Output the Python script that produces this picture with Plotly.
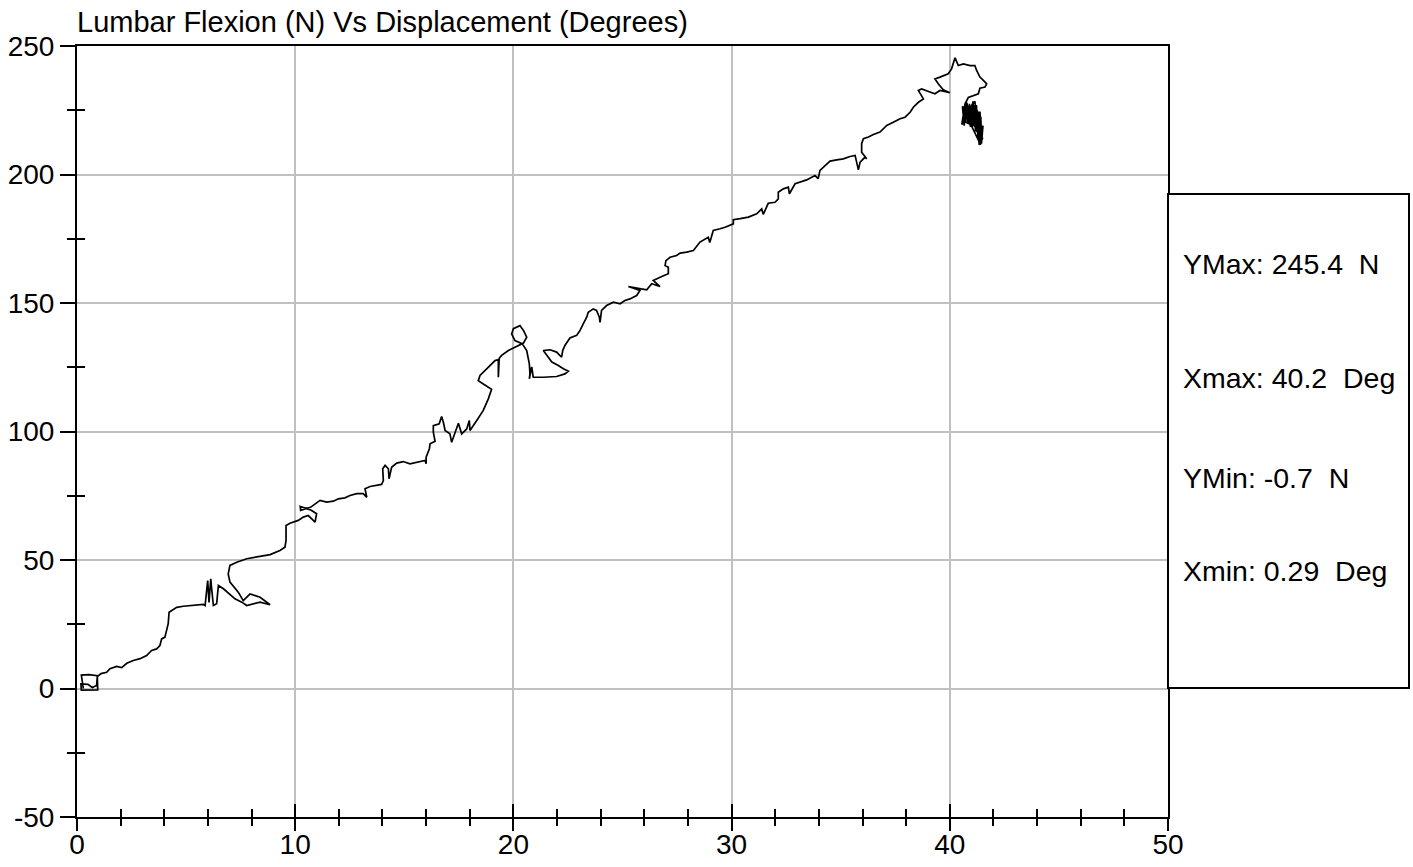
import plotly.graph_objects as go

# Lumbar flexion test: force (N) against angular displacement (degrees)
displacement_deg = [
    0.29, 0.20, 0.55, 0.93, 0.95, 0.20, 0.18, 0.50, 0.70, 0.90, 0.93, 1.10, 1.36, 1.51, 1.82,
    2.05, 2.28, 2.58, 2.89, 3.19, 3.42, 3.65, 3.80, 3.88, 4.03, 4.11, 4.18, 4.22, 4.34, 4.57,
    4.87, 5.18, 5.49, 5.79, 5.87, 5.99, 6.05, 6.13, 6.17, 6.25, 6.40, 6.48, 6.71, 7.24, 7.55,
    7.78, 8.39, 8.85, 8.39, 7.93, 7.62, 7.39, 7.01, 6.93, 7.01, 7.32, 7.78, 8.39, 8.85, 9.30,
    9.53, 9.58, 9.58, 9.76, 10.14, 10.37, 10.60, 10.91, 10.98, 10.70, 10.23, 10.25, 10.70, 11.14, 11.44,
    11.75, 11.98, 12.28, 12.51, 12.82, 13.12, 13.28, 13.20, 13.43, 13.73, 13.96, 14.04, 14.01, 14.12, 14.27,
    14.30, 14.42, 14.65, 14.95, 15.26, 15.57, 15.95, 16.00, 16.00, 16.15, 16.18, 16.41, 16.33, 16.33, 16.60,
    16.71, 16.79, 16.87, 17.09, 17.17, 17.32, 17.48, 17.63, 17.86, 17.98, 18.01, 18.32, 18.62, 18.85, 19.00,
    18.62, 18.39, 18.47, 18.78, 19.16, 19.31, 19.31, 19.35, 19.46, 19.77, 20.00, 20.23, 20.46, 20.61, 20.46,
    20.30, 20.00, 19.92, 20.07, 20.40, 20.61, 20.73, 20.76, 20.73, 20.84, 20.91, 21.37, 21.98, 22.36, 22.52,
    22.29, 22.06, 21.76, 21.60, 21.45, 21.37, 21.68, 21.98, 22.21, 22.26, 22.36, 22.59, 22.90, 23.05, 23.20,
    23.36, 23.43, 23.66, 23.81, 23.94, 23.97, 24.04, 24.27, 24.58, 24.89, 25.11, 25.34, 25.65, 25.80, 25.27,
    26.11, 26.34, 26.72, 26.41, 26.80, 27.10, 27.10, 26.95, 26.99, 27.18, 27.48, 27.64, 27.94, 28.25, 28.55,
    28.93, 29.00, 29.16, 29.47, 29.70, 30.08, 30.08, 30.39, 30.77, 31.15, 31.38, 31.45, 31.68, 31.99, 32.14,
    32.14, 32.37, 32.60, 32.65, 32.91, 33.14, 33.44, 33.82, 33.97, 34.05, 34.28, 34.51, 34.82, 35.12, 35.43,
    35.66, 35.73, 35.81, 35.89, 36.11, 36.19, 35.96, 35.96, 36.04, 36.27, 36.50, 36.80, 37.11, 37.41, 37.72,
    37.95, 38.18, 38.33, 38.56, 38.79, 38.63, 38.56, 38.71, 38.86, 39.09, 39.32, 39.55, 40.00, 39.70, 39.47,
    39.32, 39.55, 39.93, 40.08, 40.24, 40.39, 40.62, 40.93, 41.15, 41.23, 41.38, 41.54, 41.69, 41.61, 41.38,
    41.31, 41.08, 40.85, 40.70, 40.62, 40.55, 40.72, 40.78, 40.90, 40.95, 41.02, 41.10, 41.18, 41.22, 41.30,
    41.28, 41.40, 41.45, 41.52, 41.38, 41.25, 41.05, 40.60, 40.85, 41.15, 41.35, 41.50, 41.30, 40.58,
    40.66, 40.74, 40.82, 40.90, 40.98, 41.06, 41.14, 41.22, 41.30, 41.38, 41.46, 41.42, 41.34, 41.26,
    41.18, 41.10, 41.02, 40.94, 40.86, 40.78, 40.70, 40.62, 41.36, 41.44, 41.40, 41.48, 41.36,
]
force_n = [
    0.0, 5.2, 5.4, 5.0, -0.5, -0.6, 1.8, 1.6, 0.4, 1.2, 4.6, 5.8, 6.3, 7.7, 8.6,
    8.1, 9.8, 10.9, 11.6, 12.8, 14.8, 15.4, 16.7, 19.3, 20.0, 23.2, 25.2, 29.7, 30.4, 31.6,
    32.0, 32.3, 32.6, 32.7, 32.3, 42.0, 33.5, 42.7, 38.9, 32.3, 33.0, 40.1, 38.8, 34.9, 33.6,
    32.3, 33.6, 32.6, 35.5, 36.8, 34.2, 37.5, 41.4, 44.6, 47.9, 49.1, 50.5, 51.4, 52.1, 53.7,
    55.0, 57.6, 63.4, 64.3, 65.4, 66.7, 67.3, 64.7, 68.0, 69.5, 70.8, 69.3, 70.5, 73.2, 72.5,
    72.9, 73.8, 74.2, 75.1, 75.8, 75.8, 74.4, 77.7, 78.6, 79.0, 79.4, 80.9, 85.5, 86.8, 85.5,
    81.6, 86.1, 87.7, 88.3, 87.4, 88.1, 88.7, 87.5, 90.0, 93.3, 95.2, 96.2, 99.7, 102.3, 103.0,
    105.8, 103.6, 100.4, 99.1, 95.8, 99.7, 103.2, 99.1, 101.0, 104.3, 100.4, 104.3, 108.2, 112.7, 116.4,
    118.5, 119.8, 121.8, 124.4, 127.6, 128.0, 121.1, 128.5, 129.6, 131.5, 132.4, 133.5, 134.4, 136.7, 139.3,
    141.2, 140.0, 138.0, 135.4, 134.2, 131.5, 126.3, 122.4, 120.5, 125.1, 121.1, 121.1, 121.4, 122.4, 123.5,
    124.4, 125.7, 127.0, 128.9, 130.9, 131.5, 131.8, 130.9, 128.9, 131.5, 133.5, 136.4, 137.4, 139.3, 141.9,
    144.5, 146.4, 147.7, 147.1, 144.5, 142.5, 147.1, 149.0, 150.3, 149.7, 151.0, 151.6, 152.9, 154.9, 156.4,
    155.1, 157.5, 156.4, 158.8, 160.3, 161.4, 163.9, 164.6, 166.5, 167.8, 168.5, 169.4, 169.8, 170.4, 173.7,
    175.6, 173.5, 178.2, 178.9, 179.5, 180.8, 182.4, 182.8, 183.4, 184.7, 186.6, 184.5, 188.8, 189.2, 190.5,
    193.1, 194.4, 195.1, 192.5, 196.4, 197.0, 197.9, 199.6, 198.4, 201.6, 203.5, 205.2, 205.7, 206.1, 207.0,
    207.4, 204.8, 201.8, 204.8, 206.7, 206.1, 208.7, 212.0, 213.9, 214.6, 215.6, 216.5, 219.1, 220.3, 221.7,
    222.3, 224.2, 226.2, 228.1, 229.4, 231.4, 232.7, 233.3, 232.7, 232.1, 231.4, 232.7, 231.8, 233.0, 235.3,
    237.2, 237.9, 239.2, 241.1, 245.4, 242.4, 243.0, 242.4, 242.4, 240.5, 237.9, 236.6, 235.3, 234.0, 233.6,
    231.4, 230.7, 230.0, 227.5, 224.0, 219.5, 221.0, 228.0, 222.0, 218.5, 227.5, 220.0, 226.0, 216.5, 224.5,
    213.5, 222.0, 212.0, 219.0, 215.0, 222.0, 219.0, 221.0, 225.0, 228.5, 211.5, 214.0, 220.0, 226.5,
    219.0, 228.0, 220.0, 227.5, 219.5, 228.5, 218.5, 227.0, 215.0, 224.5, 213.0, 222.5, 214.0, 225.0,
    217.0, 227.0, 219.0, 226.5, 220.0, 227.0, 220.5, 225.5, 212.5, 218.0, 211.5, 216.5, 213.0,
]

x_tick_vals = [0, 10, 20, 30, 40, 50]
x_tick_text = ["0", "10", "20", "30", "40", "50"]
y_tick_vals = [-50, 0, 50, 100, 150, 200, 250]
y_tick_text = ["-50", "0", "50", "100", "150", "200", "250"]

title_text = "Lumbar Flexion (N) Vs Displacement (Degrees)"
stat_lines = ["YMax: 245.4\u00a0 N", "Xmax: 40.2\u00a0 Deg", "YMin: -0.7\u00a0 N", "Xmin: 0.29\u00a0 Deg"]
stat_y = [0.717, 0.569, 0.440, 0.319]

FONT = "Liberation Sans, Arial, sans-serif"
GRID = "#c0c0c0"

fig = go.Figure()
fig.add_trace(go.Scatter(
    x=displacement_deg, y=force_n, mode="lines",
    line=dict(color="black", width=1.7), showlegend=False, hoverinfo="skip",
))
# empty traces so the overlay axes that carry the tick marks get drawn
fig.add_trace(go.Scatter(x=[None], y=[None], xaxis="x2", yaxis="y2",
                         mode="lines", showlegend=False, hoverinfo="skip"))
fig.add_trace(go.Scatter(x=[None], y=[None], xaxis="x3", yaxis="y2",
                         mode="lines", showlegend=False, hoverinfo="skip"))

tick_style = dict(tickwidth=2, tickcolor="black")

fig.update_layout(
    width=1413, height=867,
    margin=dict(l=77, r=245, t=46, b=50, autoexpand=False),
    paper_bgcolor="white", plot_bgcolor="white",
    font=dict(family=FONT, color="black", size=28),
    title=dict(text=title_text, x=0, xref="paper", xanchor="left",
               y=1 - 22 / 867, yref="container", yanchor="middle",
               font=dict(family=FONT, size=29, color="black")),
    # main x axis: labels, grid and frame; its tick marks come from x2 / x3
    xaxis=dict(
        range=[0, 50], tickmode="array", tickvals=x_tick_vals, ticktext=x_tick_text,
        automargin=False, ticks="", ticklabelstandoff=1,
        showgrid=True, gridcolor=GRID, gridwidth=2, zeroline=False,
        showline=True, linecolor="black", linewidth=2, mirror=True,
        tickfont=dict(size=28), fixedrange=True,
    ),
    yaxis=dict(
        range=[-50, 250], tickmode="array", tickvals=y_tick_vals, ticktext=y_tick_text,
        automargin=False,
        showgrid=True, gridcolor=GRID, gridwidth=2, zeroline=False,
        showline=True, linecolor="black", linewidth=2, mirror=True,
        ticks="outside", ticklen=15, **tick_style,
        minor=dict(dtick=25, ticks="outside", ticklen=8, showgrid=False, **tick_style),
        tickfont=dict(size=28), fixedrange=True,
    ),
    # inner halves of the crossing x ticks
    xaxis2=dict(
        overlaying="x", anchor="y2", side="bottom", range=[0, 50], dtick=10, tick0=0,
        showgrid=False, zeroline=False, showline=False, showticklabels=False, automargin=False,
        ticks="inside", ticklen=13, **tick_style,
        minor=dict(dtick=2, ticks="inside", ticklen=8, showgrid=False, **tick_style),
        fixedrange=True,
    ),
    # outer halves of the crossing x ticks
    xaxis3=dict(
        overlaying="x", anchor="y2", side="bottom", range=[0, 50], dtick=10, tick0=0,
        showgrid=False, zeroline=False, showline=False, showticklabels=False, automargin=False,
        ticks="outside", ticklen=13, **tick_style,
        minor=dict(dtick=2, ticks="outside", ticklen=8, showgrid=False, **tick_style),
        fixedrange=True,
    ),
    # inner halves of the crossing minor y ticks
    yaxis2=dict(
        overlaying="y", anchor="x2", side="left", range=[-50, 250], dtick=50, tick0=0,
        showgrid=False, zeroline=False, showline=False, showticklabels=False, automargin=False,
        ticks="inside", ticklen=0, **tick_style,
        minor=dict(dtick=25, ticks="inside", ticklen=8, showgrid=False, **tick_style),
        fixedrange=True,
    ),
)

# summary box to the right of the plot
fig.add_shape(type="rect", xref="paper", yref="paper",
              x0=1.0, x1=(1409 - 77) / 1091, y0=(817 - 688) / 771, y1=(817 - 194) / 771,
              line=dict(color="black", width=2), fillcolor="white", layer="above")
for txt, yy in zip(stat_lines, stat_y):
    fig.add_annotation(text=txt, xref="paper", yref="paper", x=(1181 - 77) / 1091, y=yy,
                       xanchor="left", yanchor="middle", showarrow=False,
                       font=dict(family=FONT, size=28.5, color="black"))

fig.write_html("out.html")
